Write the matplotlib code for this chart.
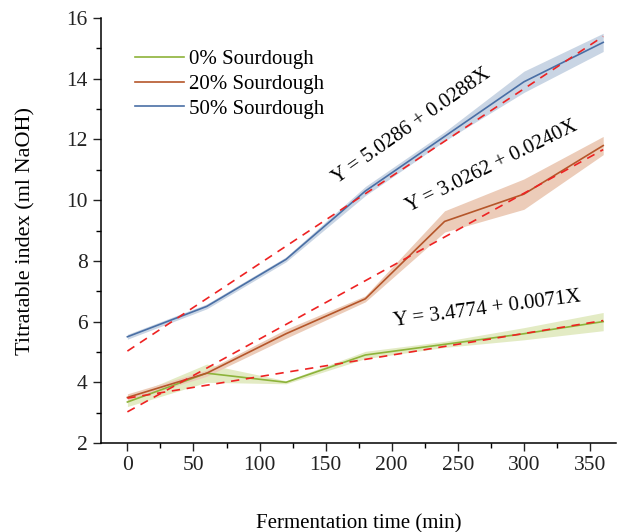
import matplotlib
matplotlib.use("Agg")
import matplotlib.pyplot as plt
from matplotlib.ticker import MultipleLocator
import numpy as np

plt.rcParams['font.family'] = ['Liberation Serif', 'DejaVu Serif']

time = [0, 60, 120, 180, 240, 300, 360]
s0 = [3.35, 4.3, 4.0, 4.9, 5.25, 5.6, 6.0]
s0_err = [0.15, 0.3, 0.05, 0.12, 0.1, 0.2, 0.3]
s20 = [3.5, 4.3, 5.6, 6.75, 9.3, 10.2, 11.8]
s20_err = [0.12, 0.1, 0.15, 0.1, 0.35, 0.5, 0.3]
s50 = [5.5, 6.5, 8.05, 10.3, 12.1, 13.9, 15.2]
s50_err = [0.08, 0.08, 0.08, 0.15, 0.15, 0.35, 0.3]

fits = [(3.4774, 0.0071), (3.0262, 0.0240), (5.0286, 0.0288)]
fit_labels = ["Y = 3.4774 + 0.0071X", "Y = 3.0262 + 0.0240X", "Y = 5.0286 + 0.0288X"]
labels = ["0% Sourdough", "20% Sourdough", "50% Sourdough"]
colors = ["#8db33a", "#b5562a", "#4a6fa5"]
fills = ["#e3ebc4", "#ecccb9", "#c9d5e4"]

fig = plt.figure(figsize=(6.21, 5.32), dpi=100)
ax = fig.add_axes([0.1626, 0.1673, 0.83, 0.7987])

series = [(s0, s0_err), (s20, s20_err), (s50, s50_err)]
t = np.array(time)
for (vals, err), c, fc, lab in zip(series, colors, fills, labels):
    v = np.array(vals); e = np.array(err)
    ax.fill_between(t, v - e, v + e, color=fc, lw=0, zorder=1)
    ax.plot(t, v, color=c, lw=1.2, label=lab, zorder=3)

for a, b in fits:
    ax.plot(t, a + b * t, color="#ee2222", lw=1.2, ls=(0, (5, 4)), zorder=4)

ax.text(272, 6.41, fit_labels[0], fontsize=15, rotation=7.5, ha='center', va='center')
ax.text(276, 11.12, fit_labels[1], fontsize=15, rotation=26, ha='center', va='center')
ax.text(215, 12.45, fit_labels[2], fontsize=15, rotation=35, ha='center', va='center')

ax.set_xlim(-20, 370)
ax.set_ylim(2, 16)
ax.xaxis.set_major_locator(MultipleLocator(50))
ax.xaxis.set_minor_locator(MultipleLocator(25))
ax.yaxis.set_major_locator(MultipleLocator(2))
ax.yaxis.set_minor_locator(MultipleLocator(1))
ax.tick_params(which='major', direction='out', length=6, width=1, labelsize=15.5, colors='#222222')
ax.tick_params(which='minor', direction='out', length=3.5, width=1)
for sp in ['top', 'right']:
    ax.spines[sp].set_visible(False)
for sp in ['left', 'bottom']:
    ax.spines[sp].set_linewidth(1.1)

ax.set_xlabel("Fermentation time (min)", fontsize=15, labelpad=28)
ax.set_ylabel("Titratable index (ml NaOH)", fontsize=16, labelpad=22)

ax.legend(loc='upper left', bbox_to_anchor=(0.03, 0.97), frameon=False, fontsize=15,
          handlelength=2.35, handletextpad=0.25, labelspacing=0.25)

fig.savefig("out.png", dpi=100)
